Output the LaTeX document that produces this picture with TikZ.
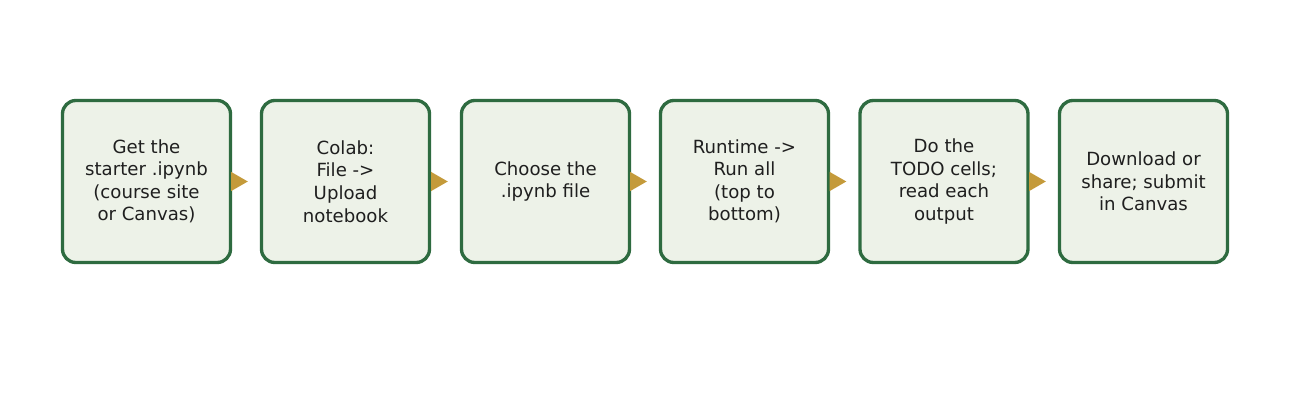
\documentclass[tikz,border=0pt]{standalone}
\usepackage{fontspec}
\setmainfont{DejaVu Sans}
\usetikzlibrary{arrows.meta}
\definecolor{boxline}{HTML}{2E6B40}
\definecolor{boxfill}{HTML}{EDF2E8}
\definecolor{gold}{HTML}{C49A3A}
\definecolor{txt}{HTML}{1F1F1F}
\begin{document}
\begin{tikzpicture}[x=0.75pt,y=-0.75pt,
  stepbox/.style={draw=boxline, fill=boxfill, line width=2.5pt, rounded corners=10pt,
    minimum width=126pt, minimum height=121.5pt, inner sep=0pt, align=center,
    text=txt, font=\fontsize{13.6pt}{16.9pt}\selectfont},
  flow/.style={draw=gold, line width=1.5pt, -{Triangle[length=12.5pt,width=14pt]}, shorten >=9pt, color=gold}]
\useasboundingbox (0,0) rectangle (1315,414);
\node[stepbox] (s1) at (146.5,181.5) {Get the\\starter .ipynb\\(course site\\or Canvas)};
\node[stepbox] (s2) at (345.5,181.5) {Colab:\\File ->\\Upload\\notebook};
\node[stepbox] (s3) at (545.5,181.5) {Choose the\\.ipynb file};
\node[stepbox] (s4) at (744.5,181.5) {Runtime ->\\Run all\\(top to\\bottom)};
\node[stepbox] (s5) at (944,181.5) {Do the\\TODO cells;\\read each\\output};
\node[stepbox] (s6) at (1143.5,181.5) {Download or\\share; submit\\in Canvas};
\draw[flow] (s1.east) -- (s2.west);
\draw[flow] (s2.east) -- (s3.west);
\draw[flow] (s3.east) -- (s4.west);
\draw[flow] (s4.east) -- (s5.west);
\draw[flow] (s5.east) -- (s6.west);
\end{tikzpicture}
\end{document}
